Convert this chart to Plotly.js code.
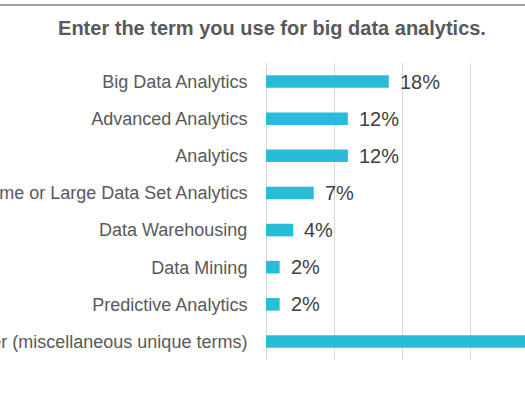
<!DOCTYPE html>
<html>
<head>
<meta charset="utf-8">
<script src="https://cdn.plot.ly/plotly-3.0.1.min.js"></script>
<style>
html,body{margin:0;padding:0;overflow:hidden;background:#fff;width:525px;height:397px;}
#chart{position:absolute;left:0;top:0;width:700px;height:397px;}
</style>
</head>
<body>
<div id="chart"></div>
<script>
const categories = [
  "Big Data Analytics",
  "Advanced Analytics",
  "Analytics",
  "Large Volume or Large Data Set Analytics",
  "Data Warehousing",
  "Data Mining",
  "Predictive Analytics",
  "Other (miscellaneous unique terms)"
];
const values = [18, 12, 12, 7, 4, 2, 2, 43];
const valueLabels = ["18%", "12%", "12%", "7%", "4%", "2%", "2%", "43%"];
const titleText = "Enter the term you use for big data analytics.";

const W = 700, H = 397;
const L = 266, R = 93, T = 63, B = 37;

const trace = {
  type: 'bar',
  orientation: 'h',
  x: values,
  y: categories,
  marker: {color: '#27BCD8'},
  hoverinfo: 'none'
};

const annotations = values.map((v, i) => ({
  x: v, y: categories[i], xref: 'x', yref: 'y',
  text: valueLabels[i], showarrow: false,
  xanchor: 'left', yanchor: 'middle', xshift: 9,
  font: {family: 'Liberation Sans, Arial, sans-serif', size: 20, color: '#404040'}
}));

const layout = {
  width: W, height: H,
  margin: {l: L, r: R, t: T, b: B, pad: 0},
  paper_bgcolor: '#fff', plot_bgcolor: '#fff',
  bargap: 0.66,
  showlegend: false,
  title: {
    text: '<b>' + titleText + '</b>',
    xref: 'container', x: 272 / W, xanchor: 'center',
    yref: 'container', y: 1 - 28 / H, yanchor: 'middle',
    font: {family: 'Liberation Sans, Arial, sans-serif', size: 20, color: '#595959'}
  },
  xaxis: {
    range: [0, 50],
    dtick: 10, tick0: 0,
    showgrid: true, gridcolor: '#d9d9d9', gridwidth: 1,
    zeroline: true, zerolinecolor: '#d9d9d9', zerolinewidth: 1,
    showticklabels: false, ticks: '',
    showline: false, fixedrange: true
  },
  yaxis: {
    autorange: 'reversed',
    type: 'category',
    showgrid: false, zeroline: false, showline: false,
    ticks: 'outside', ticklen: 14, tickcolor: 'rgba(0,0,0,0)',
    tickfont: {family: 'Liberation Sans, Arial, sans-serif', size: 18, color: '#595959'},
    fixedrange: true
  },
  shapes: [{
    type: 'line', xref: 'paper', yref: 'paper',
    x0: -1, x1: 2,
    y0: (H - B - 5) / (H - T - B), y1: (H - B - 5) / (H - T - B),
    line: {color: '#808080', width: 1.5}
  }],
  annotations: annotations
};

Plotly.newPlot('chart', [trace], layout, {displayModeBar: false, staticPlot: true});
</script>
</body>
</html>
